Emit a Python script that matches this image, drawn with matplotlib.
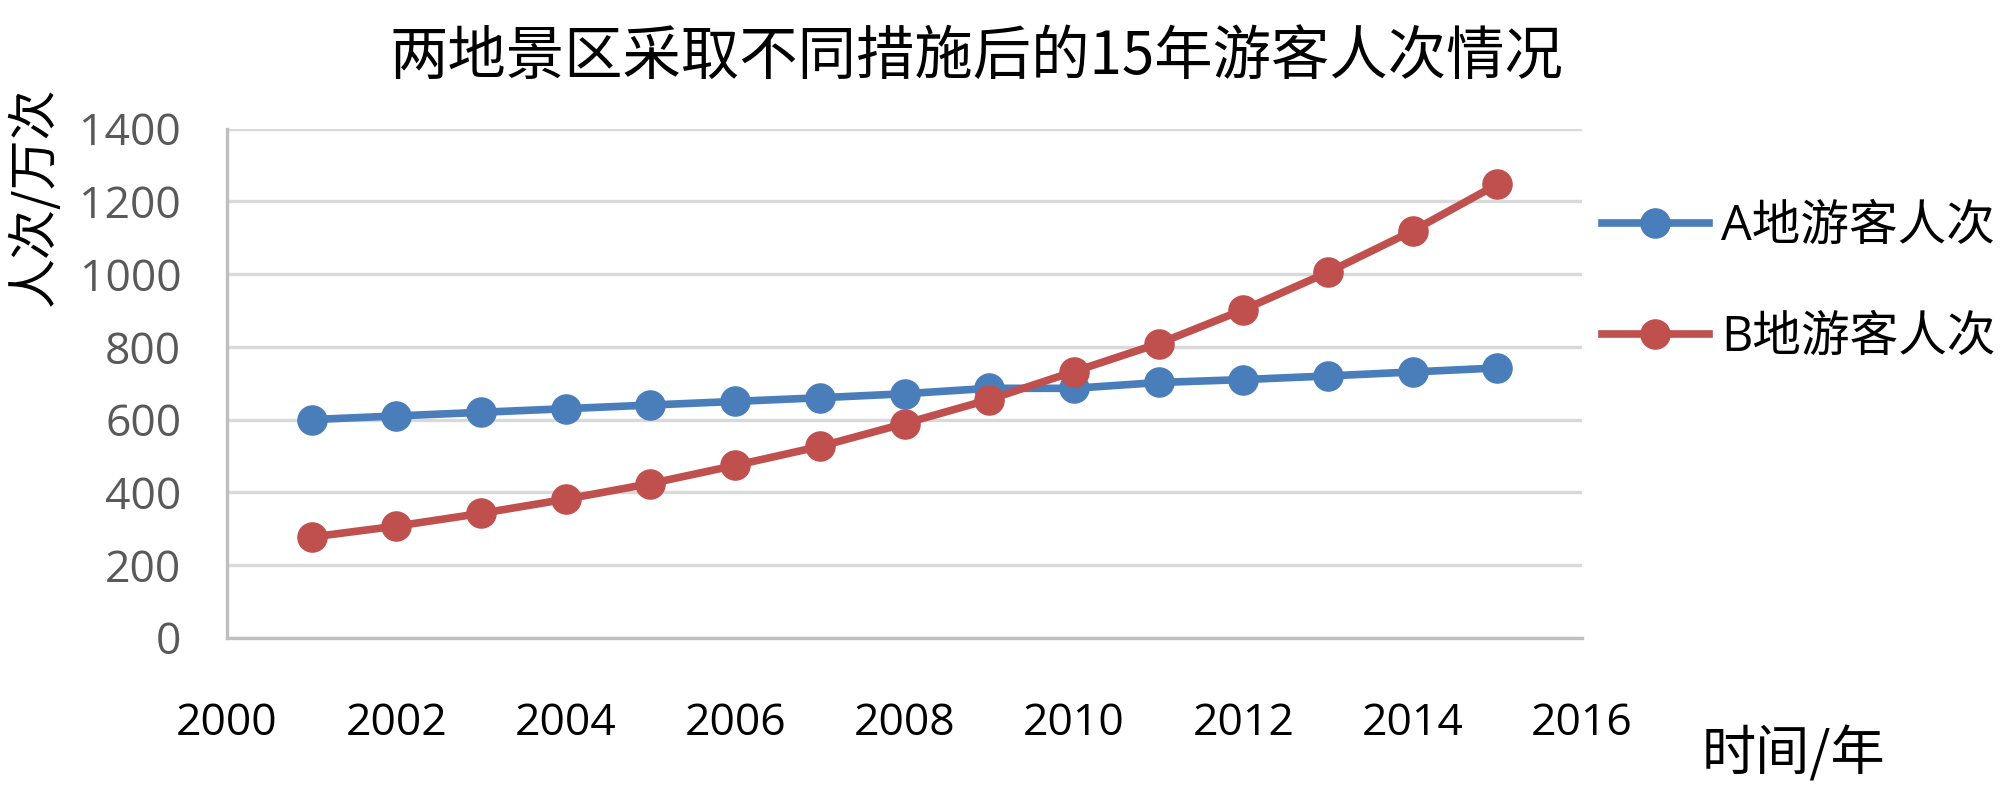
import matplotlib
matplotlib.use("Agg")
import matplotlib.pyplot as plt

plt.rcParams['font.family'] = ['Open Sans', 'Noto Sans CJK SC', 'DejaVu Sans']

years = list(range(2001, 2016))
a_visits = [600, 610, 620, 630, 640, 650, 660, 671, 686, 686, 702, 710, 720, 731, 742]
b_visits = [277, 307, 342, 381, 424, 474, 526, 589, 655, 732, 809, 902, 1005, 1119, 1247]

title = "两地景区采取不同措施后的15年游客人次情况"
a_label = "A地游客人次"
b_label = "B地游客人次"
x_label = "时间/年"
y_label = "人次/万次"

blue = "#4A7EBB"
red = "#C0504D"
grid_color = "#D9D9D9"
cjk = ["Noto Sans CJK SC", "DejaVu Sans"]

fig = plt.figure(figsize=(20, 7.94), dpi=100)
ax = fig.add_axes([0.1135, 0.1968, 0.6775, 0.6411])

ax.plot(years, a_visits, color=blue, lw=5.5, marker="o", ms=21,
        label=a_label, zorder=3)
ax.plot(years, b_visits, color=red, lw=5.5, marker="o", ms=21,
        label=b_label, zorder=4)

ax.set_xlim(2000, 2016)
ax.set_ylim(0, 1400)
ax.set_xticks(range(2000, 2017, 2))
ax.set_yticks(range(0, 1401, 200))

ax.grid(axis="y", color=grid_color, lw=2.4, zorder=0)
ax.set_axisbelow(True)
for side in ["top", "right"]:
    ax.spines[side].set_visible(False)
for side in ["left", "bottom"]:
    ax.spines[side].set_color("#BFBFBF")
    ax.spines[side].set_linewidth(2.4)

ax.tick_params(axis="both", length=0)
ax.tick_params(axis="y", labelsize=32, labelcolor="#595959", pad=33)
ax.tick_params(axis="x", labelsize=32, labelcolor="black", pad=46)

fig.text(0.488, 0.928, title, fontsize=42, ha="center", va="center", family=cjk)
fig.text(0.0175, 0.753, y_label, fontsize=36, rotation=90,
         ha="center", va="center", family=cjk)
fig.text(0.8965, 0.05, x_label, fontsize=39, ha="center", va="center", family=cjk)

leg = ax.legend(loc="upper left", bbox_to_anchor=(0.801, 0.745),
                bbox_transform=fig.transFigure, frameon=False,
                fontsize=35, handlelength=2.2, handletextpad=0.25,
                labelspacing=1.27, borderaxespad=0, borderpad=0)

fig.savefig("out.png", dpi=100)
